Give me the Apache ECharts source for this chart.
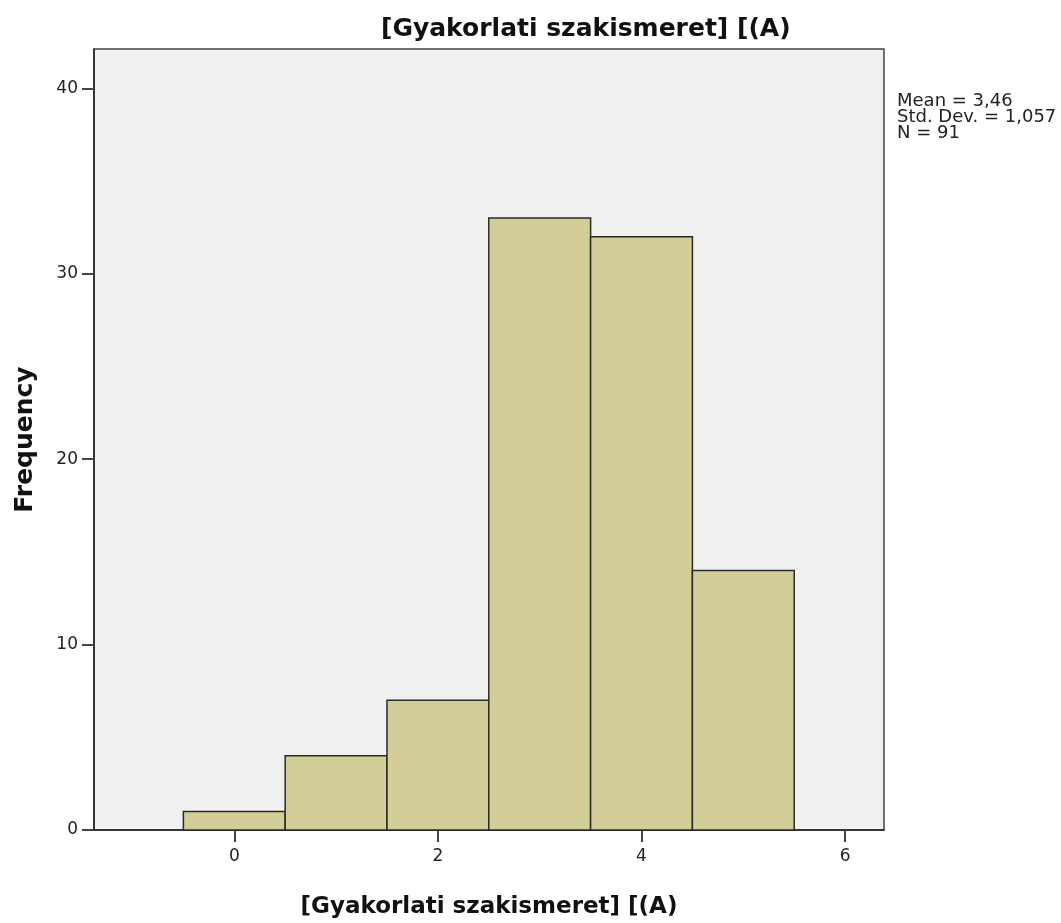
<!DOCTYPE html>
<html>
<head>
<meta charset="utf-8">
<script src="https://cdn.jsdelivr.net/npm/echarts@6/dist/echarts.min.js"></script>
<style>html,body{margin:0;padding:0;background:#fff}#c{width:1061px;height:923px}</style>
</head>
<body>
<div id="c"></div>
<script>
const binCenters = [0, 1, 2, 3, 4, 5];
const frequencies = [1, 4, 7, 33, 32, 14];
const xTicks = [0, 2, 4, 6];
const yTicks = [0, 10, 20, 30, 40];
const statsLines = ['Mean = 3,46', 'Std. Dev. = 1,057', 'N = 91'];
const titleText = '[Gyakorlati szakismeret] [(A)';
const yName = 'Frequency';

const chart = echarts.init(document.getElementById('c'), null, {renderer: 'canvas'});
const font = 'DejaVu Sans, Verdana, sans-serif';
chart.setOption({
  animation: false,
  backgroundColor: '#ffffff',
  title: {
    text: titleText, left: 376, top: 12,
    textStyle: {fontFamily: font, fontSize: 25, fontWeight: 'bold', color: '#111'}
  },
  grid: {left: 94, top: 49, right: 177, bottom: 93, outerBoundsMode: 'none', containLabel: false, show: true, backgroundColor: '#f0f0f0', borderColor: '#444', borderWidth: 1.5},
  xAxis: {
    type: 'value', min: -1.378, max: 6.382,
    name: titleText, nameLocation: 'middle', nameGap: 66,
    nameTextStyle: {fontFamily: font, fontSize: 23, fontWeight: 'bold', color: '#111'},
    axisLine: {show: true, onZero: false, lineStyle: {color: '#222', width: 1.5}},
    axisTick: {show: true, customValues: xTicks, length: 12, lineStyle: {color: '#444', width: 2}},
    axisLabel: {customValues: xTicks, fontFamily: font, fontSize: 17, color: '#222', margin: 18},
    splitLine: {show: false}
  },
  yAxis: {
    type: 'value', min: 0, max: 42.12,
    name: yName, nameLocation: 'middle', nameGap: 56, nameRotate: 90,
    nameTextStyle: {fontFamily: font, fontSize: 25, fontWeight: 'bold', color: '#111'},
    axisLine: {show: true, onZero: false, lineStyle: {color: '#222', width: 1.5}},
    axisTick: {show: true, customValues: yTicks, length: 12, lineStyle: {color: '#444', width: 2}},
    axisLabel: {customValues: yTicks, fontFamily: font, fontSize: 17, color: '#222', margin: 16},
    splitLine: {show: false}
  },
  graphic: [{
    type: 'text', left: 897, top: 92,
    style: {text: statsLines.join('\n'), fontFamily: font, fontSize: 18, lineHeight: 16, fill: '#222'}
  }],
  series: [{
    type: 'custom',
    data: binCenters.map((c, i) => [c, frequencies[i]]),
    renderItem: function (params, api) {
      const c = api.value(0), f = api.value(1);
      const p0 = api.coord([c - 0.5, f]);
      const p1 = api.coord([c + 0.5, 0]);
      return {
        type: 'rect',
        shape: {x: p0[0], y: p0[1], width: p1[0] - p0[0], height: p1[1] - p0[1]},
        style: {fill: '#d3ce97', stroke: '#2a2a2a', lineWidth: 1.5}
      };
    }
  }]
});
</script>
</body>
</html>
